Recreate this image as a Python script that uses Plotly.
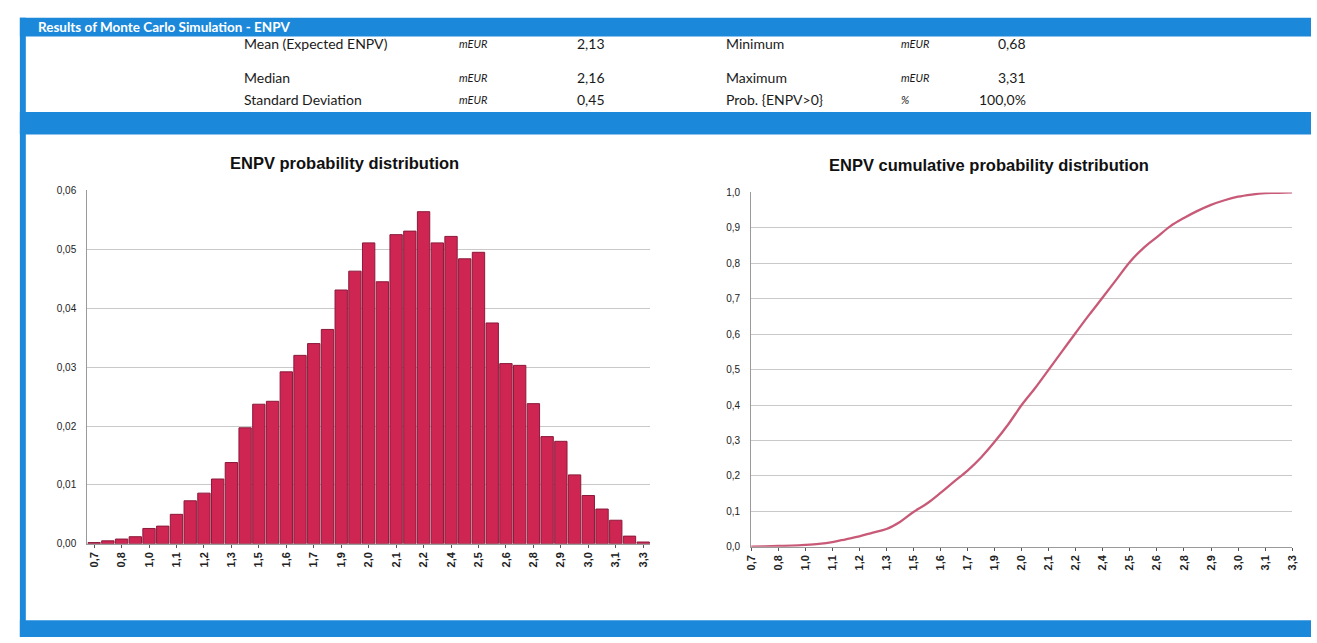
import plotly.graph_objects as go

# ---------------- data ----------------
bin_centers = ["0,68", "0,75", "0,81", "0,88", "0,94", "1,01", "1,07", "1,14", "1,21", "1,27",
               "1,34", "1,40", "1,47", "1,53", "1,60", "1,67", "1,73", "1,80", "1,86", "1,93",
               "1,99", "2,06", "2,13", "2,19", "2,26", "2,32", "2,39", "2,45", "2,52", "2,59",
               "2,65", "2,72", "2,78", "2,85", "2,91", "2,98", "3,05", "3,11", "3,18", "3,24", "3,31"]

probability = [0.0002, 0.0005, 0.0008, 0.0012, 0.0026, 0.0030, 0.0050, 0.0073, 0.0086, 0.0110,
               0.0138, 0.0197, 0.0237, 0.0242, 0.0292, 0.0320, 0.0340, 0.0364, 0.0431, 0.0463,
               0.0511, 0.0445, 0.0525, 0.0531, 0.0564, 0.0511, 0.0522, 0.0484, 0.0495, 0.0375,
               0.0306, 0.0303, 0.0238, 0.0182, 0.0174, 0.0117, 0.0082, 0.0059, 0.0040, 0.0013, 0.0003]

cumulative = [0.000, 0.001, 0.002, 0.003, 0.005, 0.008, 0.013, 0.021, 0.029, 0.040,
              0.050, 0.070, 0.098, 0.122, 0.152, 0.184, 0.215, 0.252, 0.296, 0.345,
              0.400, 0.448, 0.500, 0.552, 0.604, 0.655, 0.704, 0.754, 0.804, 0.843,
              0.874, 0.905, 0.928, 0.948, 0.965, 0.978, 0.988, 0.994, 0.998, 0.999, 1.000]

tick_labels = ["0,7", "0,8", "1,0", "1,1", "1,2", "1,3", "1,5", "1,6", "1,7", "1,9", "2,0",
               "2,1", "2,2", "2,4", "2,5", "2,6", "2,8", "2,9", "3,0", "3,1", "3,3"]

stat_labels_left = ["Mean (Expected ENPV)", "Median", "Standard Deviation"]
stat_units_left = ["mEUR", "mEUR", "mEUR"]
stat_values_left = ["2,13", "2,16", "0,45"]
stat_labels_right = ["Minimum", "Maximum", "Prob. {ENPV>0}"]
stat_units_right = ["mEUR", "mEUR", "%"]
stat_values_right = ["0,68", "3,31", "100,0%"]

header_title = "Results of Monte Carlo Simulation - ENPV"
title_hist = "ENPV probability distribution"
title_cum = "ENPV cumulative probability distribution"

# ---------------- layout helpers ----------------
W, H = 1317, 643
def px(x):
    return x / W
def py(y):
    return 1 - y / H

BLUE = "#1c88da"
GRID = "#c9c9c9"
tickvals = bin_centers[::2]

fig = go.Figure()

fig.add_trace(go.Bar(
    x=bin_centers, y=probability,
    marker=dict(color="#cf2553", line=dict(color="#8a1a3a", width=1)),
    xaxis="x", yaxis="y", showlegend=False, hoverinfo="x+y"))

fig.add_trace(go.Scatter(
    x=bin_centers, y=cumulative, mode="lines",
    line=dict(color="#c85a78", width=2.3, shape="spline", smoothing=1.0),
    xaxis="x2", yaxis="y2", showlegend=False))

xtick_font = dict(family="Liberation Sans, Arial", size=11, color="#222222", weight="bold")
ytick_font = dict(family="Liberation Sans, Arial", size=10, color="#222222")

fig.update_layout(
    autosize=True,
    margin=dict(l=0, r=0, t=0, b=0),
    paper_bgcolor="white", plot_bgcolor="white",
    separators=",.",
    bargap=0.1,
    xaxis=dict(domain=[px(82), px(650)], type="category",
               tickmode="array", tickvals=tickvals, ticktext=tick_labels,
               tickangle=-90, tickfont=xtick_font, showgrid=False,
               showline=True, linecolor="#9a9a9a", ticks="outside", ticklen=3,
               tickcolor="#555555", anchor="y"),
    yaxis=dict(domain=[py(548), py(188)], range=[0, 0.06], dtick=0.01,
               tickformat=".2f", tickfont=ytick_font, showgrid=True, gridcolor=GRID,
               showline=True, linecolor="#9a9a9a", zeroline=False, anchor="x",
               ticks="", ticklabelstandoff=8),
    xaxis2=dict(domain=[px(752), px(1298)], type="category",
                tickmode="array", tickvals=tickvals, ticktext=tick_labels,
                tickangle=-90, tickfont=xtick_font, showgrid=False,
                showline=True, linecolor="#9a9a9a", ticks="outside", ticklen=3,
                tickcolor="#555555", anchor="y2"),
    yaxis2=dict(domain=[py(551), py(190)], range=[0, 1.0], dtick=0.1,
                tickformat=".1f", tickfont=ytick_font, showgrid=True, gridcolor=GRID,
                showline=True, linecolor="#9a9a9a", zeroline=False, anchor="x2",
                ticks="", ticklabelstandoff=8),
)

shapes = [
    dict(type="rect", xref="paper", yref="paper", x0=px(14), x1=1, y0=py(31), y1=py(12),
         fillcolor=BLUE, line=dict(width=0), layer="below"),
    dict(type="rect", xref="paper", yref="paper", x0=px(14), x1=1, y0=py(131), y1=py(108),
         fillcolor=BLUE, line=dict(width=0), layer="below"),
    dict(type="rect", xref="paper", yref="paper", x0=px(14), x1=1, y0=0, y1=py(626),
         fillcolor=BLUE, line=dict(width=0), layer="below"),
    dict(type="rect", xref="paper", yref="paper", x0=px(14), x1=px(20), y0=0, y1=py(12),
         fillcolor=BLUE, line=dict(width=0), layer="below"),
]

annotations = [
    dict(text="<b>" + header_title + "</b>", x=px(30), y=py(21), xanchor="left",
         font=dict(family="Lato, Open Sans", size=13.5, color="white")),
    dict(text="<b>" + title_hist + "</b>", x=px(342), y=py(160), xanchor="center",
         font=dict(family="Liberation Sans, Arial", size=16.5, color="#111111")),
    dict(text="<b>" + title_cum + "</b>", x=px(992), y=py(162), xanchor="center",
         font=dict(family="Liberation Sans, Arial", size=16.5, color="#111111")),
]

row_y = [38, 73, 95]
text_font = dict(family="Lato, Open Sans", size=14, color="#1a1a1a")
unit_font = dict(family="Lato, Open Sans", size=11, color="#1a1a1a")
for i, yy in enumerate(row_y):
    annotations += [
        dict(text=stat_labels_left[i], x=px(238), y=py(yy), xanchor="left"),
        dict(text="<i>" + stat_units_left[i] + "</i>", x=px(455), y=py(yy), xanchor="left", font=unit_font),
        dict(text=stat_values_left[i], x=px(607), y=py(yy), xanchor="right"),
        dict(text=stat_labels_right[i], x=px(725), y=py(yy), xanchor="left"),
        dict(text="<i>" + stat_units_right[i] + "</i>", x=px(901), y=py(yy), xanchor="left", font=unit_font),
        dict(text=stat_values_right[i], x=px(1031), y=py(yy), xanchor="right"),
    ]

for a in annotations:
    a.setdefault("xref", "paper")
    a.setdefault("yref", "paper")
    a.setdefault("yanchor", "middle")
    a.setdefault("showarrow", False)
    a.setdefault("font", text_font)

fig.update_layout(shapes=shapes, annotations=annotations)

fig.write_html("out.html",
               config={"displayModeBar": False, "responsive": True},
               default_width="100vw", default_height="100vh",
               post_script=("document.body.style.margin='0';"
                            "document.body.style.overflow='hidden';"
                            "Plotly.Plots.resize(document.getElementById('{plot_id}'));"))
